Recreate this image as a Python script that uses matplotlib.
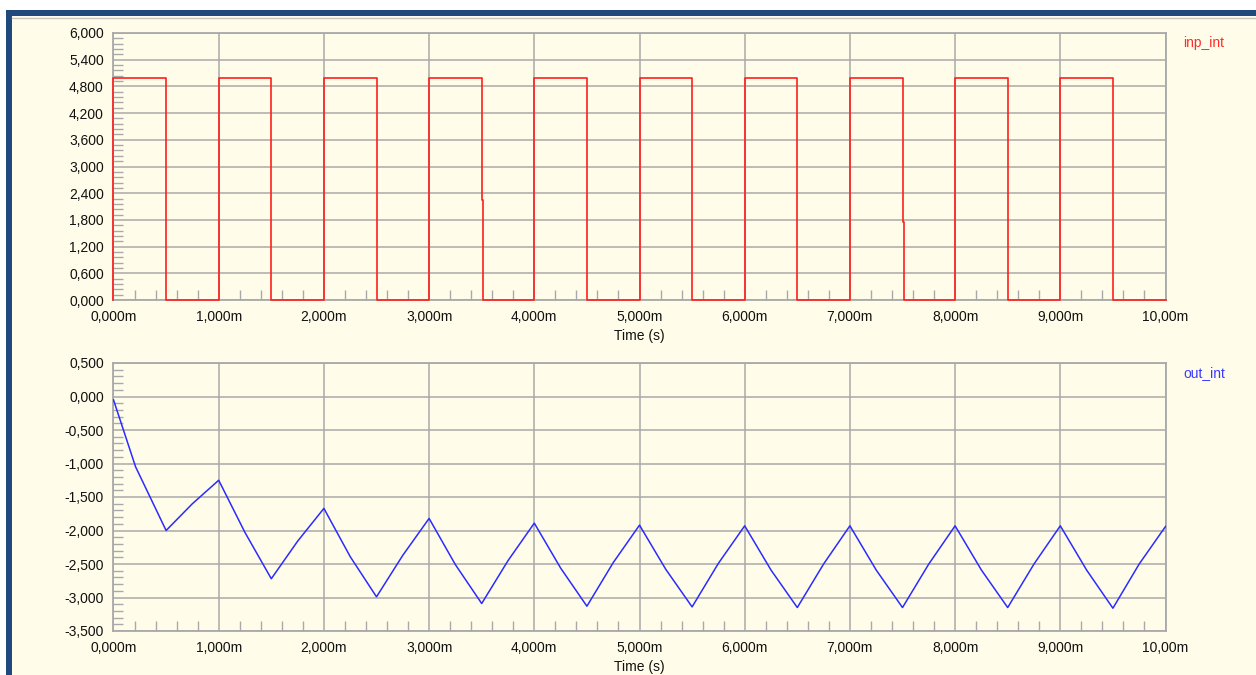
import matplotlib.pyplot as plt
from matplotlib.patches import Rectangle
from matplotlib.lines import Line2D
from matplotlib.ticker import MultipleLocator, AutoMinorLocator, FuncFormatter

# input square wave (time in ms, volts), drawn as steps-post
inp_t = [0.0, 0.0, 0.5, 1.0, 1.5, 2.0, 2.5, 3.0, 3.5, 3.51, 4.0, 4.5, 5.0, 5.5,
         6.0, 6.5, 7.0, 7.5, 7.51, 8.0, 8.5, 9.0, 9.5, 10.0]
inp_v = [0.0, 5.0, 0.0, 5.0, 0.0, 5.0, 0.0, 5.0, 2.25, 0.0, 5.0, 0.0, 5.0, 0.0,
         5.0, 0.0, 5.0, 1.76, 0.0, 5.0, 0.0, 5.0, 0.0, 0.0]

# integrator output
out_t = [0.0, 0.21, 0.5, 0.75, 1.0, 1.25, 1.5, 1.75, 2.0, 2.25, 2.5, 2.75, 3.0,
         3.25, 3.5, 3.75, 4.0, 4.25, 4.5, 4.75, 5.0, 5.25, 5.5, 5.75, 6.0,
         6.25, 6.5, 6.75, 7.0, 7.25, 7.5, 7.75, 8.0, 8.25, 8.5, 8.75, 9.0,
         9.25, 9.5, 9.75, 10.0]
out_v = [-0.05, -1.05, -2.00, -1.60, -1.25, -2.03, -2.72, -2.16, -1.67, -2.39,
         -2.99, -2.37, -1.82, -2.51, -3.09, -2.45, -1.89, -2.56, -3.13, -2.48,
         -1.92, -2.58, -3.14, -2.49, -1.93, -2.59, -3.15, -2.50, -1.93, -2.59,
         -3.15, -2.50, -1.93, -2.59, -3.15, -2.50, -1.93, -2.59, -3.16, -2.50,
         -1.94]

BG = '#fffde9'
GRID = '#a9a9a9'
TXT = '#111111'
FONT = 'Liberation Sans'


def fmt_y(v, pos):
    return f'{v:.3f}'.replace('.', ',')


def fmt_x(v, pos):
    s = f'{v:.2f}' if abs(v) >= 10 else f'{v:.3f}'
    return s.replace('.', ',') + 'm'


def style_axes(ax, ymin, ymax, ystep):
    ax.set_facecolor(BG)
    ax.set_xlim(0, 10)
    ax.set_ylim(ymin, ymax)
    ax.xaxis.set_major_locator(MultipleLocator(1))
    ax.yaxis.set_major_locator(MultipleLocator(ystep))
    ax.xaxis.set_minor_locator(AutoMinorLocator(5))
    ax.yaxis.set_minor_locator(AutoMinorLocator(5))
    ax.xaxis.set_major_formatter(FuncFormatter(fmt_x))
    ax.yaxis.set_major_formatter(FuncFormatter(fmt_y))
    ax.grid(True, which='major', color=GRID, linewidth=1.1)
    ax.set_axisbelow(True)
    for sp in ax.spines.values():
        sp.set_color(GRID)
        sp.set_linewidth(1.3)
    ax.tick_params(which='major', length=0, pad=7, labelsize=10, labelcolor=TXT)
    ax.tick_params(which='minor', direction='in', length=7, width=1.0, color=GRID)
    for lab in ax.get_xticklabels() + ax.get_yticklabels():
        lab.set_fontfamily(FONT)
    ax.set_xlabel('Time (s)', fontsize=10, family=FONT, color=TXT, labelpad=4)


fig = plt.figure(figsize=(12.56, 6.75), dpi=100)
fig.patch.set_facecolor(BG)

W, H = 1256, 675
# window frame
fig.patches.append(Rectangle((0, 1 - 10 / H), 1, 10 / H, transform=fig.transFigure,
                             facecolor='white', edgecolor='none', zorder=0))
fig.patches.append(Rectangle((0, 0), 6 / W, 1, transform=fig.transFigure,
                             facecolor='white', edgecolor='none', zorder=0))
fig.patches.append(Rectangle((6 / W, 1 - 16 / H), 1, 6 / H, transform=fig.transFigure,
                             facecolor='#1f497d', edgecolor='none', zorder=1))
fig.patches.append(Rectangle((6 / W, 0), 6 / W, 1 - 10 / H, transform=fig.transFigure,
                             facecolor='#1f497d', edgecolor='none', zorder=1))
fig.lines.append(Line2D([12 / W, 1], [1 - 17.5 / H, 1 - 17.5 / H],
                        transform=fig.transFigure, color='#c4c4c4', linewidth=1.0))

left = 113.5 / W
width = 1052 / W
ax1 = fig.add_axes([left, 1 - 300 / H, width, 267 / H])
ax2 = fig.add_axes([left, 1 - 631 / H, width, 268 / H])

style_axes(ax1, 0, 6, 0.6)
style_axes(ax2, -3.5, 0.5, 0.5)

ax1.plot(inp_t, inp_v, drawstyle='steps-post', color='#ff1f1f', linewidth=1.2,
         clip_on=False, zorder=3)
ax2.plot(out_t, out_v, color='#2b2bff', linewidth=1.1, zorder=3)

ax1.text(1.0166, 0.961, 'inp_int', transform=ax1.transAxes, color='#ff2a2a',
         fontsize=10, family=FONT, va='center', ha='left')
ax2.text(1.0166, 0.963, 'out_int', transform=ax2.transAxes, color='#3a3aff',
         fontsize=10, family=FONT, va='center', ha='left')

fig.savefig('out.png', dpi=100, facecolor=BG)
